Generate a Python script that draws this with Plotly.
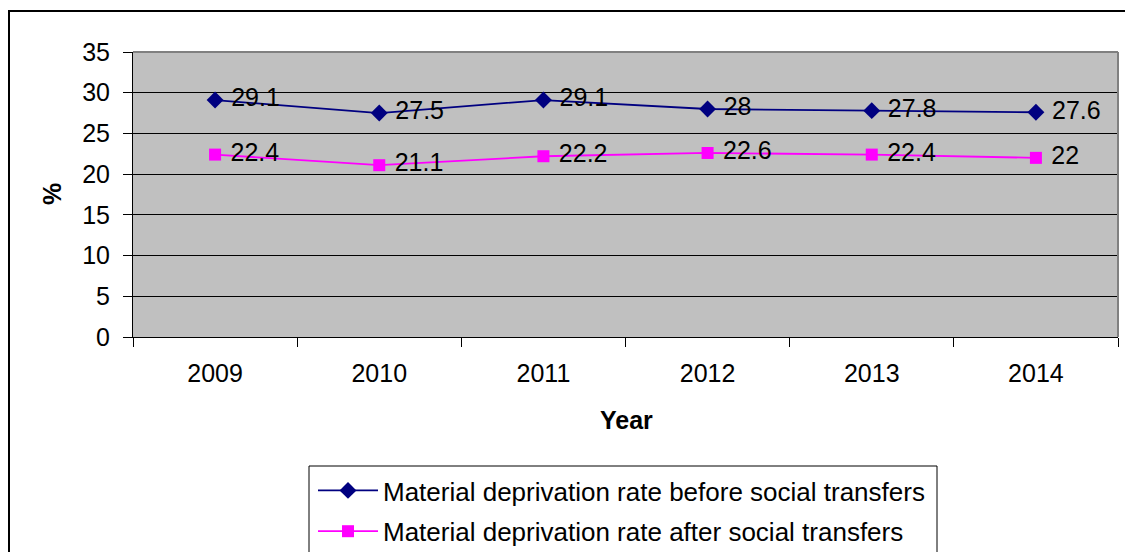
import plotly.graph_objects as go

# Material deprivation rates by year (%)
years = ["2009", "2010", "2011", "2012", "2013", "2014"]
before_transfers = [29.1, 27.5, 29.1, 28, 27.8, 27.6]
after_transfers = [22.4, 21.1, 22.2, 22.6, 22.4, 22]
y_ticks = [0, 5, 10, 15, 20, 25, 30, 35]

FONT = "Liberation Sans, Arial, sans-serif"
W, H = 1125, 552
L, R, T, B = 133, 7, 52, 215
pw, ph = W - L - R, H - T - B


def px_x(x):
    return (x - L) / pw


def px_y(y):
    return (H - B - y) / ph


def labels(values):
    # non-breaking space pushes the value label a little right of its marker
    return ["\u00a0" + f"{v:g}" for v in values]


fig = go.Figure()
fig.add_trace(go.Scatter(
    x=years, y=before_transfers, mode="lines+markers+text",
    name="Material deprivation rate before social transfers",
    line=dict(color="#000080", width=1.8),
    marker=dict(symbol="diamond", size=13, color="#000080"),
    text=labels(before_transfers), textposition="middle right",
    textfont=dict(family=FONT, size=25, color="black"),
    legendgroup="a", cliponaxis=False,
))
fig.add_trace(go.Scatter(
    x=years, y=after_transfers, mode="lines+markers+text",
    name="Material deprivation rate after social transfers",
    line=dict(color="#FF00FF", width=1.8),
    marker=dict(symbol="square", size=12, color="#FF00FF"),
    text=labels(after_transfers), textposition="middle right",
    textfont=dict(family=FONT, size=25, color="black"),
    legendgroup="b", cliponaxis=False,
))

fig.update_layout(
    width=W, height=H,
    margin=dict(l=L, r=R, t=T, b=B, pad=0, autoexpand=False),
    paper_bgcolor="white", plot_bgcolor="#C0C0C0",
    font=dict(family=FONT, size=25, color="black"),
    showlegend=True,
    legend=dict(
        x=px_x(313), y=px_y(467), xanchor="left", yanchor="top",
        bgcolor="rgba(0,0,0,0)", borderwidth=0,
        font=dict(family=FONT, size=26, color="black"),
        tracegroupgap=4, itemwidth=60,
    ),
    xaxis=dict(
        type="category", range=[-0.5, 5.5], tickson="boundaries",
        ticks="outside", ticklen=9, tickcolor="black", tickwidth=1,
        showgrid=False, showline=True, linecolor="black", linewidth=1,
        tickfont=dict(family=FONT, size=25), ticklabelstandoff=14,
        fixedrange=True,
    ),
    yaxis=dict(
        range=[0, 35], tickvals=y_ticks,
        ticks="outside", ticklen=9, tickcolor="black", tickwidth=1,
        showgrid=True, gridcolor="black", gridwidth=1,
        showline=True, linecolor="black", linewidth=1, zeroline=False,
        tickfont=dict(family=FONT, size=25), ticklabelstandoff=8,
        fixedrange=True,
    ),
    shapes=[
        # outer chart frame
        dict(type="rect", xref="paper", yref="paper",
             x0=px_x(9), x1=px_x(1140), y0=px_y(11), y1=px_y(600),
             line=dict(color="black", width=2), fillcolor="rgba(0,0,0,0)"),
        # plot area border (top and right)
        dict(type="line", xref="paper", yref="paper", x0=0, x1=1, y0=1, y1=1,
             line=dict(color="#808080", width=2)),
        dict(type="line", xref="paper", yref="paper", x0=1, x1=1, y0=0, y1=1,
             line=dict(color="#808080", width=2)),
        # legend box
        dict(type="rect", xref="paper", yref="paper",
             x0=px_x(309), x1=px_x(937), y0=px_y(466), y1=px_y(600),
             line=dict(color="black", width=1), fillcolor="rgba(0,0,0,0)"),
    ],
    annotations=[
        dict(text="<b>%</b>", xref="paper", yref="paper",
             x=px_x(52), y=px_y(194), xanchor="center", yanchor="middle",
             textangle=-90, showarrow=False,
             font=dict(family=FONT, size=25)),
        dict(text="<b>Year</b>", xref="paper", yref="paper",
             x=px_x(626), y=px_y(420), xanchor="center", yanchor="middle",
             showarrow=False, font=dict(family=FONT, size=25)),
    ],
)

fig.write_html("out.html")
